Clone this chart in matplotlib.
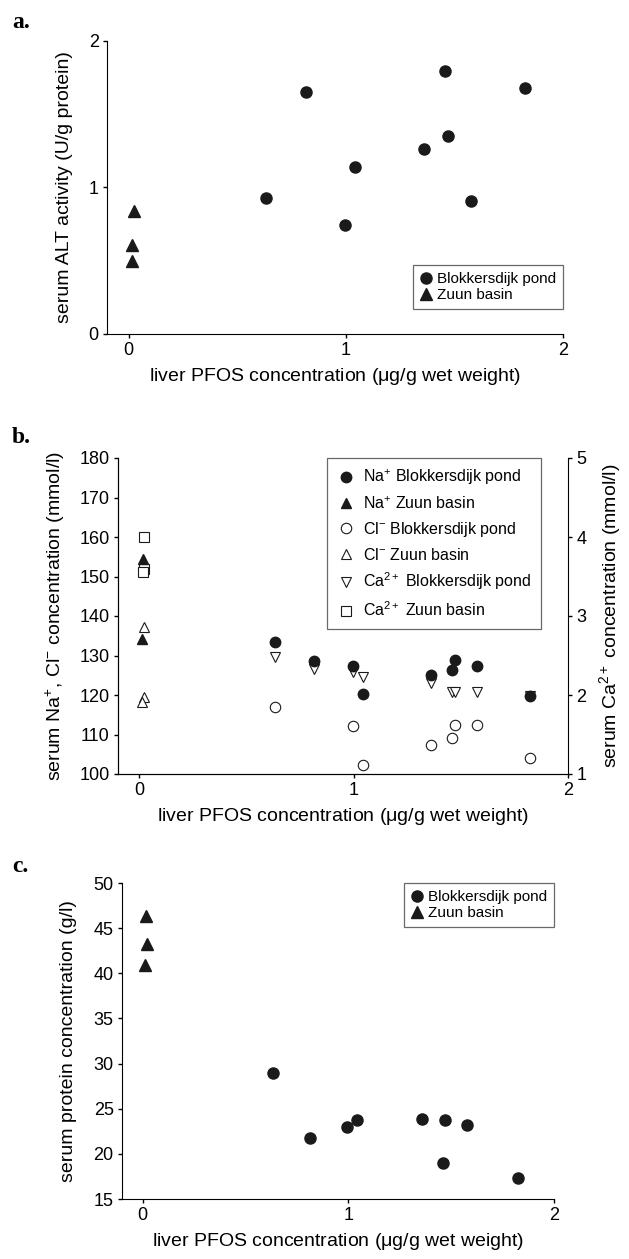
import matplotlib
matplotlib.use("Agg")
import matplotlib.pyplot as plt

plt.rcParams['font.family'] = ['Liberation Sans', 'DejaVu Sans']
plt.rcParams['mathtext.fontset'] = 'custom'
plt.rcParams['mathtext.rm'] = 'Liberation Sans'
plt.rcParams['mathtext.it'] = 'Liberation Sans:italic'
plt.rcParams['mathtext.bf'] = 'Liberation Sans:bold'

# liver PFOS (ug/g wet weight), Blokkersdijk pond fish
pfos_blok = [0.634, 0.815, 0.996, 1.044, 1.360, 1.458, 1.472, 1.575, 1.824]

# a. serum ALT activity
alt_blok = [0.93, 1.65, 0.74, 1.14, 1.26, 1.79, 1.35, 0.91, 1.68]
pfos_zuun_a = [0.024, 0.013, 0.013]
alt_zuun = [0.84, 0.61, 0.495]

# b. serum ions
na_blok = [133.3, 128.7, 127.4, 120.2, 125.0, 126.3, 128.9, 127.3, 119.8]
pfos_na_zuun = [0.015, 0.013]
na_zuun = [154.4, 134.1]
pfos_cl_blok = [0.634, 0.996, 1.044, 1.360, 1.458, 1.472, 1.575, 1.824]
cl_blok = [117.0, 112.1, 102.3, 107.3, 109.0, 112.4, 112.4, 104.0]
pfos_cl_zuun = [0.019, 0.023, 0.012]
cl_zuun = [137.2, 119.5, 118.2]
ca_blok = [2.48, 2.33, 2.29, 2.23, 2.15, 2.04, 2.04, 2.04, 1.99]
pfos_ca_zuun = [0.019, 0.023, 0.015]
ca_zuun = [4.0, 3.60, 3.56]

# c. serum protein
prot_blok = [29.0, 21.8, 23.0, 23.7, 23.85, 19.0, 23.7, 23.2, 17.3]
pfos_zuun_c = [0.016, 0.021, 0.010]
prot_zuun = [46.4, 43.2, 40.9]

xlabel = 'liver PFOS concentration ($\\mathrm{\\mu}$g/g wet weight)'
dark = '#1a1a1a'
W, H = 629, 1259


def box(l, r, t, b):
    return [l / W, 1 - b / H, (r - l) / W, (b - t) / H]


def style(ax):
    ax.spines['top'].set_visible(False)
    ax.spines['right'].set_visible(False)
    ax.tick_params(direction='out', length=3, width=1, labelsize=13, pad=3)
    ax.set_xlim(-0.1, 2)
    ax.set_xticks([0, 1, 2])
    ax.set_xlabel(xlabel, fontsize=14, labelpad=5)


def leg(ax, **kw):
    lg = ax.legend(frameon=True, fancybox=False, borderaxespad=0, **kw)
    lg.get_frame().set_edgecolor('#444444')
    lg.get_frame().set_linewidth(0.9)
    return lg


fig = plt.figure(figsize=(6.29, 12.59), dpi=100)

# ---- a ----
ax = fig.add_axes(box(107, 563, 40.7, 334))
ax.plot(pfos_blok, alt_blok, 'o', color=dark, ms=8, label='Blokkersdijk pond')
ax.plot(pfos_zuun_a, alt_zuun, '^', color=dark, ms=8, label='Zuun basin')
style(ax)
ax.set_ylim(0, 2)
ax.set_yticks([0, 1, 2])
ax.set_ylabel('serum ALT activity (U/g protein)', fontsize=14, labelpad=11)
leg(ax, loc='lower right', bbox_to_anchor=(1.0, 0.085), fontsize=11,
    labelspacing=0.15, borderpad=0.45, handletextpad=0.3, handlelength=0.8)

# ---- b ----
ax = fig.add_axes(box(118, 568, 458, 774))
ax2 = ax.twinx()
h1, = ax.plot(pfos_blok, na_blok, 'o', color=dark, ms=7.5)
h2, = ax.plot(pfos_na_zuun, na_zuun, '^', color=dark, ms=7.5)
h3, = ax.plot(pfos_cl_blok, cl_blok, 'o', mfc='white', mec=dark, mew=0.8, ms=7.5)
h4, = ax.plot(pfos_cl_zuun, cl_zuun, '^', mfc='white', mec=dark, mew=0.8, ms=7.5)
h5, = ax2.plot(pfos_blok, ca_blok, 'v', mfc='white', mec=dark, mew=0.8, ms=7.5)
h6, = ax2.plot(pfos_ca_zuun, ca_zuun, 's', mfc='white', mec=dark, mew=0.8, ms=7)
ax.set_zorder(ax2.get_zorder() + 1)
ax.patch.set_visible(False)
style(ax)
ax.set_ylim(100, 180)
ax.set_yticks(range(100, 181, 10))
ax.set_ylabel('serum Na$^{+}$, Cl$^{-}$ concentration (mmol/l)', fontsize=14, labelpad=9)
ax2.spines['top'].set_visible(False)
ax2.set_ylim(1, 5)
ax2.set_yticks([1, 2, 3, 4, 5])
ax2.tick_params(direction='out', length=3, width=1, labelsize=13, pad=3)
ax2.set_ylabel('serum Ca$^{2+}$ concentration (mmol/l)', fontsize=14, labelpad=8)
leg(ax, handles=[h1, h2, h3, h4, h5, h6],
    labels=['Na$^{+}$ Blokkersdijk pond', 'Na$^{+}$ Zuun basin',
            'Cl$^{-}$ Blokkersdijk pond', 'Cl$^{-}$ Zuun basin',
            'Ca$^{2+}$ Blokkersdijk pond', 'Ca$^{2+}$ Zuun basin'],
    loc='upper right', bbox_to_anchor=(0.94, 1.0), fontsize=11.5,
    labelspacing=0.5, borderpad=0.6, handletextpad=0.45, handlelength=1.2)

# ---- c ----
ax = fig.add_axes(box(122, 554, 883, 1199))
ax.plot(pfos_blok, prot_blok, 'o', color=dark, ms=8, label='Blokkersdijk pond')
ax.plot(pfos_zuun_c, prot_zuun, '^', color=dark, ms=8, label='Zuun basin')
style(ax)
ax.set_ylim(15, 50)
ax.set_yticks(range(15, 51, 5))
ax.set_ylabel('serum protein concentration (g/l)', fontsize=14, labelpad=12)
leg(ax, loc='upper right', bbox_to_anchor=(1.0, 1.0), fontsize=11,
    labelspacing=0.15, borderpad=0.45, handletextpad=0.3, handlelength=0.8)

# panel letters
for letter, y in [('a.', 28), ('b.', 443), ('c.', 872)]:
    fig.text(12 / W, 1 - y / H, letter, family='Liberation Serif',
             weight='bold', fontsize=17, va='baseline')

fig.savefig('out.png', dpi=100)
